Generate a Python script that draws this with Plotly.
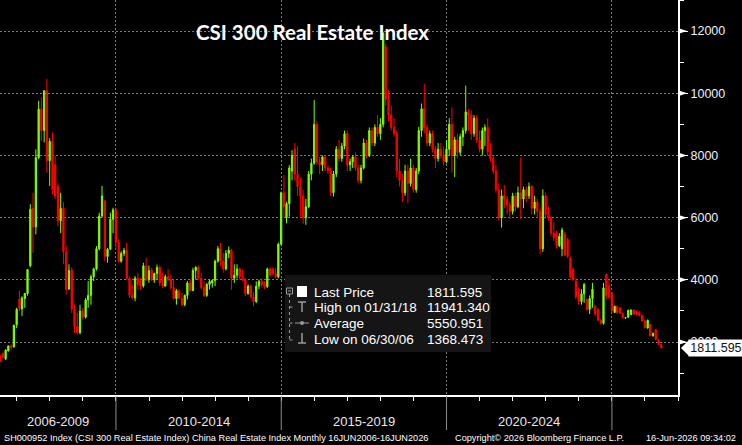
import plotly.graph_objects as go
import pandas as pd

# ---------------- data (monthly OHLC, Jun 2006 .. Jun 2026) ----------------
opens = [
    1570, 1640, 1450, 1710, 1880, 1850, 2560,                               # 2006
    3380, 3060, 3400, 3560, 4450, 6300, 5700, 7930, 9490, 8800, 10080, 7830,  # 2007
    8450, 7700, 7000, 5900, 6300, 4900, 3700, 4300, 3050, 2500, 2300, 3000,   # 2008
    2800, 3350, 3500, 4100, 4350, 5000, 6050, 6540, 4750, 4980, 5950, 6250,   # 2009
    5200, 4600, 4850, 4950, 4050, 3500, 3420, 4050, 3850, 3800, 4450, 4000,   # 2010
    4300, 4000, 4200, 4400, 3900, 3800, 4100, 4000, 3750, 3400, 3650, 3400,   # 2011
    3200, 3500, 3900, 3650, 4300, 4400, 4050, 3750, 3500, 3850, 3900, 3980,   # 2012
    4600, 5000, 4600, 4350, 4850, 4950, 4050, 4150, 4350, 4100, 4000, 3550,   # 2013
    3800, 3450, 3300, 3800, 3950, 3850, 3780, 4350, 4350, 4200, 4100, 5150,   # 2014
    6800, 6000, 6450, 7500, 8200, 7400, 7000, 6700, 6000, 6350, 7400, 7750,   # 2015
    9000, 7800, 7700, 7950, 7600, 7500, 6800, 7400, 8200, 7900, 8300, 8700,   # 2016
    7700, 7800, 7950, 7600, 7200, 7600, 8400, 8000, 8800, 8400, 8900, 8700,   # 2017
    9000, 11490, 9800, 9300, 8900, 8700, 7500, 7200, 6800, 7500, 7100, 7600,  # 2018
    6900, 7500, 8800, 9500, 8900, 8400, 8700, 8200, 7900, 8200, 8000, 7800,   # 2019
    8200, 9000, 8000, 8500, 8100, 8600, 8800, 9400, 9300, 8700, 9200, 8500,   # 2020
    8200, 8800, 8900, 8100, 7900, 7500, 6900, 6000, 6700, 6600, 6400, 6200,   # 2021
    6700, 6350, 6800, 6600, 6900, 6700, 7000, 6300, 6500, 6200, 5000, 6700,   # 2022
    6100, 6000, 5500, 5500, 5100, 5000, 5470, 5300, 4700, 4330, 3960, 3690,   # 2023
    3300, 3550, 3370, 3050, 3400, 3150, 3040, 2700, 2600, 4170, 3800, 3580,   # 2024
    2950, 3150, 3100, 2920, 2780, 2800, 2880, 3030, 2990, 2950, 2850, 2680,   # 2025
    2450, 2560, 2200, 2400, 2075, 1920,                                       # 2026
]
highs = [
    1600, 1660, 1760, 1890, 1920, 2560, 3100,
    3650, 3470, 3580, 4350, 6430, 6800, 8200, 9760, 9870, 10100, 10460, 8560,
    8740, 7990, 7100, 6800, 6500, 5090, 4500, 4400, 3200, 2935, 3200, 3100,
    3420, 3960, 4170, 4390, 5085, 6160, 7020, 6560, 5030, 6160, 6320, 6320,
    5300, 4920, 5030, 5190, 4100, 3850, 4120, 4230, 4060, 4550, 4710, 4460,
    4390, 4230, 4490, 4460, 4230, 4170, 4350, 4170, 4010, 3710, 3690, 3580,
    3530, 3960, 4010, 4390, 4440, 4460, 4230, 3960, 3900, 4010, 4000, 4650,
    5090, 5190, 4870, 4960, 5070, 5000, 4500, 4500, 4400, 4330, 4060, 3850,
    3850, 3600, 3950, 4000, 4050, 3950, 4390, 4400, 4400, 4390, 5200, 6840,
    7370, 6510, 7690, 8170, 8400, 8300, 7300, 6900, 6600, 7500, 7900, 9780,
    9100, 7950, 8000, 8000, 7700, 7600, 7500, 8300, 8500, 8400, 8800, 8800,
    7900, 8000, 8100, 7700, 7700, 8550, 8500, 8900, 8900, 9000, 9300, 9200,
    11941.34, 11600, 10100, 9600, 9200, 8800, 7900, 7400, 7700, 7700, 7900, 7700,
    7600, 8920, 9670, 10310, 9000, 8800, 8800, 8300, 8400, 8400, 8300, 8500,
    9200, 9550, 8600, 8700, 8700, 8900, 10245, 9500, 9450, 9300, 9300, 8800,
    8900, 9000, 9200, 8400, 8000, 7700, 7100, 6900, 7050, 6700, 6500, 6800,
    6800, 7000, 7930, 7000, 7000, 7130, 7050, 6700, 6600, 6300, 6910, 6800,
    6350, 6050, 5850, 5570, 5500, 5680, 5550, 5350, 4750, 4400, 4050, 3750,
    3700, 3900, 3400, 3500, 3900, 3200, 3100, 2750, 3900, 4200, 4010, 3600,
    3170, 3170, 3110, 2940, 2800, 3040, 3050, 3040, 3000, 2990, 2880, 2700,
    2720, 2580, 2300, 2420, 2090, 1950,
]
lows = [
    1360, 1480, 1420, 1700, 1740, 1810, 2450,
    2990, 2830, 3100, 3490, 4400, 4870, 5460, 7880, 8470, 8420, 7450, 7020,
    6750, 6590, 5730, 5500, 4500, 3530, 3690, 2935, 2290, 2240, 2250, 2720,
    2750, 3100, 3200, 3960, 4300, 4950, 6000, 4600, 4550, 4980, 5500, 4980,
    4550, 4550, 4760, 4010, 3420, 3370, 3310, 3690, 3690, 3750, 3960, 3900,
    3960, 3900, 4010, 3800, 3740, 3780, 3960, 3690, 3370, 3200, 3370, 3150,
    3150, 3370, 3630, 3650, 4010, 4010, 3690, 3450, 3450, 3690, 3750, 3800,
    4550, 4440, 4230, 4300, 4700, 3680, 3900, 4050, 4000, 3960, 3470, 3530,
    3400, 3150, 3250, 3700, 3750, 3700, 3740, 4100, 4150, 4050, 4050, 5100,
    6000, 5820, 6030, 7200, 7200, 6700, 6000, 5800, 5770, 6300, 7200, 7700,
    7700, 7400, 7500, 7500, 7400, 6700, 6680, 7300, 7800, 7800, 8200, 7500,
    7500, 7600, 7500, 7100, 7100, 7550, 7900, 7950, 8300, 8300, 8600, 8500,
    8900, 9600, 9100, 8800, 8600, 7300, 7000, 6500, 6700, 6460, 7000, 6800,
    6800, 7400, 8600, 8700, 8300, 8300, 8100, 7600, 7800, 7900, 7700, 7750,
    8000, 7450, 7300, 7900, 8000, 8300, 8700, 8800, 8500, 8600, 8400, 8100,
    8000, 8300, 8000, 7800, 7400, 6800, 5900, 5680, 6300, 6100, 5950, 6100,
    6200, 6300, 5950, 6300, 6500, 6600, 6100, 6100, 6000, 4820, 4900, 5950,
    5900, 5400, 5250, 5000, 5050, 4760, 4760, 4700, 4010, 3960, 3370, 3200,
    3200, 3260, 2990, 2900, 3100, 2830, 2670, 2560, 2560, 3370, 3370, 2935,
    2935, 2900, 2900, 2750, 2740, 2780, 2860, 2870, 2860, 2830, 2660, 2440,
    2430, 2180, 2170, 2070, 1900, 1805,
]
closes = [
    1368.473, 1500, 1740, 1870, 1840, 2540, 3050,
    3080, 3420, 3560, 4330, 6270, 5700, 7930, 9490, 8800, 10080, 7830, 8450,
    6900, 6700, 5900, 6300, 4900, 3700, 4300, 3050, 2500, 2300, 3000, 2800,
    3350, 3500, 4100, 4350, 5000, 6050, 6700, 4750, 4980, 5950, 6250, 5200,
    4600, 4850, 4950, 4050, 3500, 3420, 4050, 3850, 3800, 4450, 4000, 4300,
    4000, 4200, 4400, 3900, 3800, 4100, 4000, 3750, 3400, 3650, 3400, 3200,
    3500, 3900, 3650, 4300, 4400, 4050, 3750, 3500, 3850, 3950, 3980, 4600,
    5000, 4600, 4350, 4850, 4950, 4050, 4150, 4350, 4100, 4000, 3550, 3800,
    3450, 3300, 3800, 3950, 3850, 3780, 4350, 4150, 4200, 4100, 5150, 6800,
    6350, 6450, 7600, 8000, 7400, 7000, 6700, 6000, 6350, 7400, 7750, 9000,
    7800, 7700, 7950, 7600, 7500, 6800, 7400, 8200, 7900, 8300, 8700, 7700,
    7800, 7950, 7600, 7200, 7600, 8400, 8000, 8800, 8400, 8900, 8700, 9000,
    11941.34, 9800, 9300, 8900, 8700, 7500, 7200, 6800, 7500, 7100, 7600, 6900,
    7500, 8800, 9500, 8900, 8400, 8700, 8200, 7900, 8200, 8000, 7800, 8200,
    9000, 8000, 8500, 8100, 8600, 8800, 9400, 9300, 8700, 9200, 8500, 8200,
    8800, 8900, 8100, 7900, 7500, 6900, 6000, 6700, 6600, 6400, 6200, 6700,
    6350, 6800, 6600, 6900, 6700, 7000, 6300, 6500, 6200, 5000, 6700, 6100,
    6000, 5500, 5350, 5100, 5400, 5600, 4800, 4750, 4100, 4000, 3450, 3300,
    3550, 3850, 3050, 3400, 3700, 2900, 2700, 2600, 3740, 3500, 3450, 3000,
    3150, 2950, 2920, 2780, 2790, 3020, 3030, 2900, 2880, 2850, 2680, 2460,
    2700, 2200, 2280, 2080, 1920, 1811.595,
]
dates = pd.date_range("2006-06-30", periods=len(closes), freq="ME")

y_ticks = [2000, 4000, 6000, 8000, 10000, 12000]
period_labels = ["2006-2009", "2010-2014", "2015-2019", "2020-2024"]
period_centers = ["2008-04-01", "2012-07-02", "2017-07-02", "2022-07-02"]
period_breaks = ["2010-01-01", "2015-01-01", "2020-01-01", "2025-01-01"]
legend_average = 5550.951

title_text = "CSI 300 Real Estate Index"
footer_left = "SH000952 Index (CSI 300 Real Estate Index) China Real Estate Index Monthly 16JUN2006-16JUN2026"
footer_mid = "Copyright\u00a9 2026 Bloomberg Finance L.P."
footer_right = "16-Jun-2026 09:34:02"

# ---------------- styling / geometry ----------------
W, H = 742, 445
PR, PB = 678, 395            # plot area right / bottom in px (left=0, top=0)
Y_RANGE = [296, 13000]
X_RANGE = ["2006-06-30", "2027-01-01"]
GREEN = "#7fff00"
RED = "#ff0000"
GRID = "#7c7c7c"
FONT = "Liberation Sans"
UNIT = (Y_RANGE[1] - Y_RANGE[0]) / PB  # data units per px


def fx(px):
    return px / PR


def fy(py):
    return 1 - py / PB


fig = go.Figure()
fig.add_trace(go.Candlestick(
    x=dates, open=opens, high=highs, low=lows, close=closes,
    increasing=dict(line=dict(color=GREEN, width=1), fillcolor=GREEN),
    decreasing=dict(line=dict(color=RED, width=1), fillcolor=RED),
    whiskerwidth=0, hoverinfo="skip", showlegend=False,
))

shapes = []
annotations = []

# y tick flags
for v in y_ticks:
    shapes.append(dict(type="path", xref="paper", yref="y",
                       path=f"M {fx(678)},{v + 3 * UNIT} L {fx(687)},{v} L {fx(678)},{v - 3 * UNIT} Z",
                       fillcolor="white", line=dict(width=0), layer="above"))

# period separators below the axis
for d in period_breaks:
    shapes.append(dict(type="line", xref="x", yref="paper", x0=d, x1=d,
                       y0=fy(396), y1=fy(430), line=dict(color="#8c8c8c", width=1)))
for lab, c in zip(period_labels, period_centers):
    annotations.append(dict(x=c, xref="x", y=fy(422), yref="paper", text=lab,
                            showarrow=False, xanchor="center", yanchor="middle",
                            font=dict(family=FONT, size=13, color="#e8e8e8")))

# title
annotations.append(dict(x=fx(312.5), y=fy(32), xref="paper", yref="paper",
                        text=f"<b>{title_text}</b>", showarrow=False,
                        xanchor="center", yanchor="middle",
                        font=dict(family="Lato", size=20.5, color="white")))

# legend box
ICON = "#9a9a9a"
shapes.append(dict(type="rect", xref="paper", yref="paper",
                   x0=fx(285), x1=fx(491), y0=fy(352), y1=fy(275),
                   fillcolor="#151515", line=dict(width=0), layer="above"))
# tree: collapse box, stem, branches
shapes.append(dict(type="rect", xref="paper", yref="paper", x0=fx(286.5), x1=fx(292.5),
                   y0=fy(294), y1=fy(288), line=dict(color=ICON, width=1), layer="above"))
shapes.append(dict(type="line", xref="paper", yref="paper", x0=fx(288), x1=fx(291),
                   y0=fy(291), y1=fy(291), line=dict(color=ICON, width=1), layer="above"))
shapes.append(dict(type="line", xref="paper", yref="paper", x0=fx(289.5), x1=fx(289.5),
                   y0=fy(294), y1=fy(340), line=dict(color=ICON, width=1, dash="dot"), layer="above"))
for yy in (307, 323, 340):
    shapes.append(dict(type="line", xref="paper", yref="paper", x0=fx(289.5), x1=fx(294),
                       y0=fy(yy), y1=fy(yy), line=dict(color=ICON, width=1, dash="dot"), layer="above"))
# last price swatch
shapes.append(dict(type="rect", xref="paper", yref="paper", x0=fx(297), x1=fx(307),
                   y0=fy(297), y1=fy(286), fillcolor="white", line=dict(width=0), layer="above"))
# high icon
shapes.append(dict(type="line", xref="paper", yref="paper", x0=fx(298), x1=fx(306),
                   y0=fy(302), y1=fy(302), line=dict(color=ICON, width=1.5), layer="above"))
shapes.append(dict(type="line", xref="paper", yref="paper", x0=fx(302), x1=fx(302),
                   y0=fy(302), y1=fy(312), line=dict(color=ICON, width=1.5), layer="above"))
# average icon
shapes.append(dict(type="line", xref="paper", yref="paper", x0=fx(295), x1=fx(309),
                   y0=fy(323), y1=fy(323), line=dict(color=ICON, width=1), layer="above"))
shapes.append(dict(type="circle", xref="paper", yref="paper", x0=fx(300), x1=fx(304),
                   y0=fy(325), y1=fy(321), fillcolor=ICON, line=dict(width=0), layer="above"))
# low icon
shapes.append(dict(type="line", xref="paper", yref="paper", x0=fx(302), x1=fx(302),
                   y0=fy(333), y1=fy(343), line=dict(color=ICON, width=1.5), layer="above"))
shapes.append(dict(type="line", xref="paper", yref="paper", x0=fx(298), x1=fx(306),
                   y0=fy(343), y1=fy(343), line=dict(color=ICON, width=1.5), layer="above"))

i_hi = max(range(len(closes)), key=lambda i: closes[i])
i_lo = min(range(len(closes)), key=lambda i: closes[i])
rows = [
    ("Last Price", f"{closes[-1]:.3f}", 292),
    (f"High on {dates[i_hi]:%m/%d/%y}", f"{closes[i_hi]:.3f}", 307.5),
    ("Average", f"{legend_average:.3f}", 323),
    (f"Low on {dates[i_lo]:%m/%d/%y}", f"{closes[i_lo]:.3f}", 339.5),
]
for lab, val, yy in rows:
    annotations.append(dict(x=fx(312), y=fy(yy), xref="paper", yref="paper", text=lab,
                            showarrow=False, xanchor="left", yanchor="middle",
                            font=dict(family=FONT, size=13.5, color="white")))
    annotations.append(dict(x=fx(425), y=fy(yy), xref="paper", yref="paper", text=val,
                            showarrow=False, xanchor="left", yanchor="middle",
                            font=dict(family=FONT, size=13.5, color="white")))

# last price tag on the right axis
last = closes[-1]
shapes.append(dict(type="path", xref="paper", yref="y",
                   path=f"M {fx(689)},{last + 8 * UNIT} L {fx(681)},{last} L {fx(689)},{last - 8 * UNIT} Z",
                   fillcolor="white", line=dict(width=0), layer="above"))
annotations.append(dict(x=fx(715.5), y=last, xref="paper", yref="y", text=f"{last:.3f}",
                        showarrow=False, xanchor="center", yanchor="middle",
                        width=54, height=16, bgcolor="white", borderpad=0,
                        font=dict(family=FONT, size=12.5, color="#111111")))

# footer
for txt, px in ((footer_left, 2), (footer_mid, 453), (footer_right, 644)):
    annotations.append(dict(x=fx(px), y=fy(438), xref="paper", yref="paper", text=txt,
                            showarrow=False, xanchor="left", yanchor="middle",
                            font=dict(family=FONT, size=9.2, color="white")))

fig.update_layout(
    width=W, height=H,
    margin=dict(l=0, r=W - PR, t=0, b=H - PB, autoexpand=False),
    paper_bgcolor="black", plot_bgcolor="black",
    showlegend=False, hovermode=False,
    shapes=shapes, annotations=annotations,
    xaxis=dict(
        type="date", range=X_RANGE, rangeslider=dict(visible=False),
        tickvals=period_breaks, showticklabels=False,
        ticks="outside", ticklen=4, tickcolor="white", tickwidth=1,
        showgrid=True, gridcolor=GRID, griddash="2px,2px", gridwidth=1,
        minor=dict(dtick="M12", tick0="2006-01-01", ticks="outside", ticklen=4,
                   tickcolor="white", tickwidth=1, showgrid=False),
        showline=True, linecolor="white", linewidth=2, zeroline=False, fixedrange=True,
    ),
    yaxis=dict(
        side="right", range=Y_RANGE, tickvals=y_ticks, ticktext=[str(v) for v in y_ticks],
        ticks="outside", ticklen=8, tickcolor="white", tickwidth=1,
        tickfont=dict(family=FONT, size=12.5, color="#eaf1ff"),
        showgrid=True, gridcolor=GRID, griddash="2px,2px", gridwidth=1,
        minor=dict(dtick=1000, tick0=0, ticks="outside", ticklen=4, tickcolor="white",
                   tickwidth=1, showgrid=False),
        showline=True, linecolor="white", linewidth=2, zeroline=False, fixedrange=True,
    ),
)

fig.write_html("out.html", config={"displayModeBar": False})
